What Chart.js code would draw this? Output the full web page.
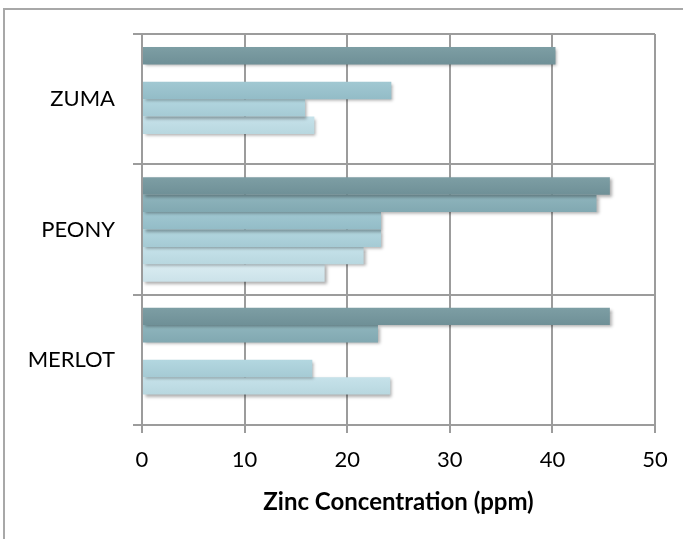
<!DOCTYPE html>
<html>
<head>
<meta charset="utf-8">
<script src="https://cdn.jsdelivr.net/npm/chart.js@4"></script>
<style>
    body { margin: 0; background: #ffffff; }
    #wrap { position: relative; width: 683px; height: 539px; overflow: hidden; }
    #frame {
        position: absolute; left: 3px; top: 8px; width: 720px; height: 600px;
        border-top: 2px solid #a8a8a8; border-left: 2px solid #a8a8a8;
    }
    canvas { position: absolute; left: 0; top: 0; }
</style>
</head>
<body>
<div id="wrap">
    <div id="frame"></div>
    <canvas id="zincChart" width="683" height="539"></canvas>
</div>
<script>
// categories, top to bottom
const sites = ["ZUMA", "PEONY", "MERLOT"];

// one series per bar slot, darkest (top bar) first
const series1 = [40.3, 45.6, 45.6];
const series2 = [null, 44.3, 23.0];
const series3 = [24.3, 23.3, null];
const series4 = [15.9, 23.3, 16.6];
const series5 = [16.8, 21.6, 24.2];
const series6 = [null, 17.8, null];

const xTicks = [0, 10, 20, 30, 40, 50];
const xTitle = "Zinc Concentration (ppm)";

const allSeries = [series1, series2, series3, series4, series5, series6];
const barColors = ["#7d9ea4", "#8fb5bd", "#a1c8d2", "#b3d7e0", "#c6e2ea", "#daecf2"];
const barShades = ["#6f9097", "#81a8b1", "#93bcc7", "#a5cad4", "#b8d7df", "#cbe2e9"];

function barFill(context) {
    const i = context.datasetIndex;
    const el = context.element;
    if (!el || el.y === undefined || !el.height) {
        return barColors[i];
    }
    const top = el.y - el.height / 2;
    const g = context.chart.ctx.createLinearGradient(0, top, 0, top + el.height);
    g.addColorStop(0, barColors[i]);
    g.addColorStop(1, barShades[i]);
    return g;
}

const barShadow = {
    id: "barShadow",
    beforeDatasetsDraw(chart) {
        const ctx = chart.ctx;
        ctx.save();
        ctx.shadowColor = "rgba(0, 0, 0, 0.32)";
        ctx.shadowBlur = 3;
        ctx.shadowOffsetX = 2;
        ctx.shadowOffsetY = 2;
    },
    afterDatasetsDraw(chart) {
        chart.ctx.restore();
    }
};

const gridColor = "#9c9c9c";
const font = "Lato";

const zincChart = new Chart(document.getElementById("zincChart"), {
    type: "bar",
    data: {
        labels: sites,
        datasets: allSeries.map((values, i) => ({
            label: "Series " + (i + 1),
            data: values,
            backgroundColor: barFill,
            borderWidth: 0,
            barPercentage: 1.0,
            categoryPercentage: 0.8
        }))
    },
    plugins: [barShadow],
    options: {
        indexAxis: "y",
        responsive: false,
        maintainAspectRatio: false,
        animation: false,
        layout: {
            padding: { top: 34, right: 28, left: 0, bottom: 0 }
        },
        plugins: {
            legend: { display: false },
            tooltip: { enabled: false }
        },
        scales: {
            x: {
                min: xTicks[0],
                max: xTicks[xTicks.length - 1],
                afterFit: function(scale) {
                    scale.height = 114;
                },
                afterBuildTicks: function(scale) {
                    scale.ticks = xTicks.map(v => ({ value: v }));
                },
                ticks: {
                    color: "#000000",
                    padding: 14,
                    font: { family: font, size: 22 }
                },
                grid: {
                    color: gridColor,
                    lineWidth: 2,
                    tickLength: 8
                },
                border: { color: gridColor, width: 2 },
                title: {
                    display: true,
                    text: xTitle,
                    color: "#000000",
                    padding: { top: 4, bottom: 22 },
                    font: { family: font, size: 24, weight: "bold" }
                }
            },
            y: {
                afterFit: function(scale) {
                    scale.width = 142;
                },
                ticks: {
                    color: "#000000",
                    padding: 18,
                    font: { family: font, size: 22 }
                },
                grid: {
                    color: gridColor,
                    lineWidth: 2,
                    tickLength: 9
                },
                border: { color: gridColor, width: 2 }
            }
        }
    }
});

// second pass so the bar gradients know where each bar sits
zincChart.update();
</script>
</body>
</html>
